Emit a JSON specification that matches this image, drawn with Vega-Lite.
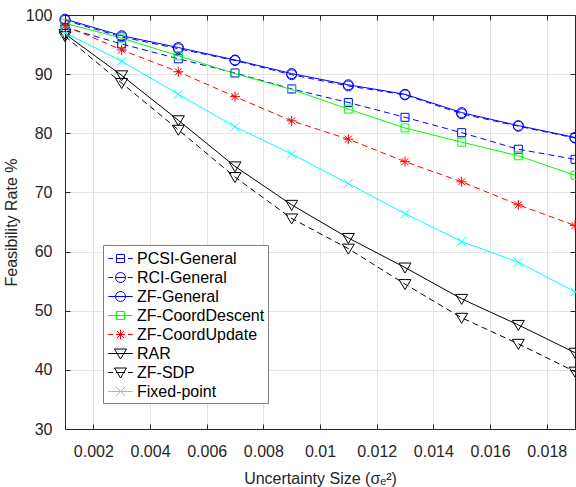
{
  "$schema": "https://vega.github.io/schema/vega-lite/v6.json",
  "width": 510,
  "height": 414,
  "autosize": {"type": "none"},
  "padding": {"left": 65, "top": 15, "right": 1, "bottom": 58},
  "background": "white",
  "config": {
    "font": "Liberation Sans",
    "view": {"stroke": null},
    "axis": {
      "domainColor": "#262626",
      "tickColor": "#262626",
      "labelColor": "#262626",
      "titleColor": "#262626",
      "labelFontSize": 16,
      "titleFontSize": 16,
      "titleFontWeight": "normal",
      "gridColor": "#e3e3e3",
      "tickSize": -5,
      "domainWidth": 1
    },
    "legend": {
      "title": null, "orient": "none", "legendX": 38, "legendY": 230,
      "padding": 3, "symbolSize": 400, "symbolStrokeWidth": 1, "symbolOffset": 4,
      "symbolFillColor": "transparent",
      "labelOffset": 6, "labelFontSize": 16, "labelColor": "#000000", "rowPadding": 0,
      "strokeColor": "#808080", "fillColor": "#ffffff", "labelLimit": 300
    }
  },
  "data": {
    "values": [
      {"method": "PCSI-General", "size": 0.001, "rate": 97.9},
      {"method": "PCSI-General", "size": 0.003, "rate": 95.1},
      {"method": "PCSI-General", "size": 0.005, "rate": 92.6},
      {"method": "PCSI-General", "size": 0.007, "rate": 90.2},
      {"method": "PCSI-General", "size": 0.009, "rate": 87.5},
      {"method": "PCSI-General", "size": 0.011, "rate": 85.2},
      {"method": "PCSI-General", "size": 0.013, "rate": 82.7},
      {"method": "PCSI-General", "size": 0.015, "rate": 80.1},
      {"method": "PCSI-General", "size": 0.017, "rate": 77.3},
      {"method": "PCSI-General", "size": 0.019, "rate": 75.6},
      {"method": "RCI-General", "size": 0.001, "rate": 99.1},
      {"method": "RCI-General", "size": 0.003, "rate": 96.3},
      {"method": "RCI-General", "size": 0.005, "rate": 94.3},
      {"method": "RCI-General", "size": 0.007, "rate": 92.3},
      {"method": "RCI-General", "size": 0.009, "rate": 89.9},
      {"method": "RCI-General", "size": 0.011, "rate": 88.0},
      {"method": "RCI-General", "size": 0.013, "rate": 86.5},
      {"method": "RCI-General", "size": 0.015, "rate": 83.3},
      {"method": "RCI-General", "size": 0.017, "rate": 81.2},
      {"method": "RCI-General", "size": 0.019, "rate": 79.2},
      {"method": "ZF-General", "size": 0.001, "rate": 99.3},
      {"method": "ZF-General", "size": 0.003, "rate": 96.5},
      {"method": "ZF-General", "size": 0.005, "rate": 94.5},
      {"method": "ZF-General", "size": 0.007, "rate": 92.4},
      {"method": "ZF-General", "size": 0.009, "rate": 90.1},
      {"method": "ZF-General", "size": 0.011, "rate": 88.2},
      {"method": "ZF-General", "size": 0.013, "rate": 86.6},
      {"method": "ZF-General", "size": 0.015, "rate": 83.5},
      {"method": "ZF-General", "size": 0.017, "rate": 81.3},
      {"method": "ZF-General", "size": 0.019, "rate": 79.3},
      {"method": "ZF-CoordDescent", "size": 0.001, "rate": 98.6},
      {"method": "ZF-CoordDescent", "size": 0.003, "rate": 96.1},
      {"method": "ZF-CoordDescent", "size": 0.005, "rate": 93.1},
      {"method": "ZF-CoordDescent", "size": 0.007, "rate": 90.1},
      {"method": "ZF-CoordDescent", "size": 0.009, "rate": 87.4},
      {"method": "ZF-CoordDescent", "size": 0.011, "rate": 84.1},
      {"method": "ZF-CoordDescent", "size": 0.013, "rate": 80.9},
      {"method": "ZF-CoordDescent", "size": 0.015, "rate": 78.5},
      {"method": "ZF-CoordDescent", "size": 0.017, "rate": 76.2},
      {"method": "ZF-CoordDescent", "size": 0.019, "rate": 72.9},
      {"method": "ZF-CoordUpdate", "size": 0.001, "rate": 98.2},
      {"method": "ZF-CoordUpdate", "size": 0.003, "rate": 94.1},
      {"method": "ZF-CoordUpdate", "size": 0.005, "rate": 90.4},
      {"method": "ZF-CoordUpdate", "size": 0.007, "rate": 86.2},
      {"method": "ZF-CoordUpdate", "size": 0.009, "rate": 82.1},
      {"method": "ZF-CoordUpdate", "size": 0.011, "rate": 79.0},
      {"method": "ZF-CoordUpdate", "size": 0.013, "rate": 75.2},
      {"method": "ZF-CoordUpdate", "size": 0.015, "rate": 71.8},
      {"method": "ZF-CoordUpdate", "size": 0.017, "rate": 67.9},
      {"method": "ZF-CoordUpdate", "size": 0.019, "rate": 64.4},
      {"method": "RAR", "size": 0.001, "rate": 96.8},
      {"method": "RAR", "size": 0.003, "rate": 89.8},
      {"method": "RAR", "size": 0.005, "rate": 82.2},
      {"method": "RAR", "size": 0.007, "rate": 74.4},
      {"method": "RAR", "size": 0.009, "rate": 67.9},
      {"method": "RAR", "size": 0.011, "rate": 62.3},
      {"method": "RAR", "size": 0.013, "rate": 57.3},
      {"method": "RAR", "size": 0.015, "rate": 52.0},
      {"method": "RAR", "size": 0.017, "rate": 47.6},
      {"method": "RAR", "size": 0.019, "rate": 42.9},
      {"method": "ZF-SDP", "size": 0.001, "rate": 96.4},
      {"method": "ZF-SDP", "size": 0.003, "rate": 88.5},
      {"method": "ZF-SDP", "size": 0.005, "rate": 80.6},
      {"method": "ZF-SDP", "size": 0.007, "rate": 72.6},
      {"method": "ZF-SDP", "size": 0.009, "rate": 65.6},
      {"method": "ZF-SDP", "size": 0.011, "rate": 60.5},
      {"method": "ZF-SDP", "size": 0.013, "rate": 54.5},
      {"method": "ZF-SDP", "size": 0.015, "rate": 48.8},
      {"method": "ZF-SDP", "size": 0.017, "rate": 44.4},
      {"method": "ZF-SDP", "size": 0.019, "rate": 39.7},
      {"method": "Fixed-point", "size": 0.001, "rate": 97.0},
      {"method": "Fixed-point", "size": 0.003, "rate": 92.2},
      {"method": "Fixed-point", "size": 0.005, "rate": 86.6},
      {"method": "Fixed-point", "size": 0.007, "rate": 81.1},
      {"method": "Fixed-point", "size": 0.009, "rate": 76.5},
      {"method": "Fixed-point", "size": 0.011, "rate": 71.5},
      {"method": "Fixed-point", "size": 0.013, "rate": 66.4},
      {"method": "Fixed-point", "size": 0.015, "rate": 61.7},
      {"method": "Fixed-point", "size": 0.017, "rate": 58.2},
      {"method": "Fixed-point", "size": 0.019, "rate": 53.2}
    ]
  },
  "encoding": {
    "x": {"field": "size", "type": "quantitative", "scale": {"domain": [0.001, 0.019], "nice": false, "zero": false}, "axis": null},
    "y": {"field": "rate", "type": "quantitative", "scale": {"domain": [30, 100], "nice": false, "zero": false}, "axis": null}
  },
  "layer": [
    {
      "transform": [{"filter": {"field": "method", "equal": "PCSI-General"}}],
      "mark": {"type": "line", "strokeWidth": 1, "color": "#0000ff", "strokeDash": [6, 4]},
      "encoding": {
        "x": {
          "field": "size", "type": "quantitative",
          "axis": {
            "orient": "bottom",
            "values": [0.002, 0.004, 0.006, 0.008, 0.01, 0.012, 0.014, 0.016, 0.018],
            "format": "~g",
            "grid": true,
            "labelPadding": 19,
            "title": "Uncertainty Size (σₑ²)",
            "titlePadding": 11
          }
        },
        "y": {
          "field": "rate", "type": "quantitative",
          "axis": {
            "orient": "left",
            "values": [30, 40, 50, 60, 70, 80, 90, 100],
            "grid": true,
            "labelPadding": 18,
            "title": "Feasibility Rate %",
            "titlePadding": 6
          }
        },
        "order": {"field": "size", "type": "quantitative"}
      }
    },
    {
      "transform": [{"filter": {"field": "method", "equal": "RCI-General"}}],
      "mark": {"type": "line", "strokeWidth": 1, "color": "#0000ff", "strokeDash": [6, 4]},
      "encoding": {"order": {"field": "size", "type": "quantitative"}}
    },
    {
      "transform": [{"filter": {"field": "method", "equal": "ZF-General"}}],
      "mark": {"type": "line", "strokeWidth": 1, "color": "#0000ff"},
      "encoding": {"order": {"field": "size", "type": "quantitative"}}
    },
    {
      "transform": [{"filter": {"field": "method", "equal": "ZF-CoordDescent"}}],
      "mark": {"type": "line", "strokeWidth": 1, "color": "#00ff00"},
      "encoding": {"order": {"field": "size", "type": "quantitative"}}
    },
    {
      "transform": [{"filter": {"field": "method", "equal": "ZF-CoordUpdate"}}],
      "mark": {"type": "line", "strokeWidth": 1, "color": "#ff0000", "strokeDash": [6, 4]},
      "encoding": {"order": {"field": "size", "type": "quantitative"}}
    },
    {
      "transform": [{"filter": {"field": "method", "equal": "RAR"}}],
      "mark": {"type": "line", "strokeWidth": 1, "color": "#000000"},
      "encoding": {"order": {"field": "size", "type": "quantitative"}}
    },
    {
      "transform": [{"filter": {"field": "method", "equal": "ZF-SDP"}}],
      "mark": {"type": "line", "strokeWidth": 1, "color": "#000000", "strokeDash": [6, 4]},
      "encoding": {"order": {"field": "size", "type": "quantitative"}}
    },
    {
      "transform": [{"filter": {"field": "method", "equal": "Fixed-point"}}],
      "mark": {"type": "line", "strokeWidth": 1, "color": "#00ffff"},
      "encoding": {"order": {"field": "size", "type": "quantitative"}}
    },
    {
      "transform": [{"filter": {"field": "method", "equal": "PCSI-General"}}],
      "mark": {"type": "point", "filled": false, "strokeWidth": 1, "size": 100, "opacity": 1, "color": "#0000ff", "shape": "M-0.8,-0.8L0.8,-0.8L0.8,0.8L-0.8,0.8Z"},
      "encoding": {
        "x": {
          "field": "size", "type": "quantitative",
          "axis": {
            "orient": "top",
            "values": [0.002, 0.004, 0.006, 0.008, 0.01, 0.012, 0.014, 0.016, 0.018],
            "labels": false, "grid": false, "title": null
          }
        },
        "y": {
          "field": "rate", "type": "quantitative",
          "axis": {
            "orient": "right",
            "values": [30, 40, 50, 60, 70, 80, 90, 100],
            "labels": false, "grid": false, "title": null
          }
        }
      }
    },
    {
      "transform": [{"filter": {"field": "method", "equal": "RCI-General"}}],
      "mark": {"type": "point", "filled": false, "strokeWidth": 1, "size": 100, "opacity": 1, "color": "#0000ff", "shape": "M1,0A1,1,0,1,1,-1,0A1,1,0,1,1,1,0Z"},
      "encoding": {}
    },
    {
      "transform": [{"filter": {"field": "method", "equal": "ZF-General"}}],
      "mark": {"type": "point", "filled": false, "strokeWidth": 1, "size": 100, "opacity": 1, "color": "#0000ff", "shape": "M1,0A1,1,0,1,1,-1,0A1,1,0,1,1,1,0Z"},
      "encoding": {}
    },
    {
      "transform": [{"filter": {"field": "method", "equal": "ZF-CoordDescent"}}],
      "mark": {"type": "point", "filled": false, "strokeWidth": 1, "size": 100, "opacity": 1, "color": "#00ff00", "shape": "M-0.8,-0.8L0.8,-0.8L0.8,0.8L-0.8,0.8Z"},
      "encoding": {}
    },
    {
      "transform": [{"filter": {"field": "method", "equal": "ZF-CoordUpdate"}}],
      "mark": {"type": "point", "filled": false, "strokeWidth": 1, "size": 100, "opacity": 1, "color": "#ff0000", "shape": "M0,-1L0,1M-1,0L1,0M-0.7,-0.7L0.7,0.7M-0.7,0.7L0.7,-0.7"},
      "encoding": {}
    },
    {
      "transform": [{"filter": {"field": "method", "equal": "RAR"}}],
      "mark": {"type": "point", "filled": false, "strokeWidth": 1, "size": 100, "opacity": 1, "color": "#000000", "shape": "M-1.2,-0.9L1.2,-0.9L0,1.1Z"},
      "encoding": {}
    },
    {
      "transform": [{"filter": {"field": "method", "equal": "ZF-SDP"}}],
      "mark": {"type": "point", "filled": false, "strokeWidth": 1, "size": 100, "opacity": 1, "color": "#000000", "shape": "M-1.2,-0.9L1.2,-0.9L0,1.1Z"},
      "encoding": {}
    },
    {
      "transform": [{"filter": {"field": "method", "equal": "Fixed-point"}}],
      "mark": {"type": "point", "filled": false, "strokeWidth": 1, "size": 100, "opacity": 1, "color": "#00ffff", "shape": "M-0.9,-0.9L0.9,0.9M-0.9,0.9L0.9,-0.9"},
      "encoding": {}
    },
    {
      "transform": [{"filter": "datum.rate > 1000"}],
      "mark": {"type": "point", "filled": false, "strokeWidth": 1, "opacity": 1},
      "encoding": {
        "color": {
          "field": "method", "type": "nominal",
          "scale": {
            "domain": ["PCSI-General", "RCI-General", "ZF-General", "ZF-CoordDescent", "ZF-CoordUpdate", "RAR", "ZF-SDP", "Fixed-point"],
            "range": ["#0000ff", "#0000ff", "#0000ff", "#00ff00", "#ff0000", "#000000", "#000000", "#00ffff"]
          }
        },
        "shape": {
          "field": "method", "type": "nominal",
          "scale": {
            "domain": ["PCSI-General", "RCI-General", "ZF-General", "ZF-CoordDescent", "ZF-CoordUpdate", "RAR", "ZF-SDP", "Fixed-point"],
            "range": [
              "M-1.22,0L-0.75,0M-0.45,0L0.45,0M0.75,0L1.22,0M-0.4,-0.4L0.4,-0.4L0.4,0.4L-0.4,0.4Z",
              "M-1.22,0L-0.75,0M-0.45,0L0.45,0M0.75,0L1.22,0M0.5,0A0.5,0.5,0,1,1,-0.5,0A0.5,0.5,0,1,1,0.5,0Z",
              "M-1.22,0L1.22,0M0.5,0A0.5,0.5,0,1,1,-0.5,0A0.5,0.5,0,1,1,0.5,0Z",
              "M-1.22,0L1.22,0M-0.4,-0.4L0.4,-0.4L0.4,0.4L-0.4,0.4Z",
              "M-1.22,0L-0.75,0M-0.45,0L0.45,0M0.75,0L1.22,0M0,-0.5L0,0.5M-0.35,-0.35L0.35,0.35M-0.35,0.35L0.35,-0.35",
              "M-1.22,0L1.22,0M-0.6,-0.45L0.6,-0.45L0,0.55Z",
              "M-1.22,0L-0.75,0M-0.45,0L0.45,0M0.75,0L1.22,0M-0.6,-0.45L0.6,-0.45L0,0.55Z",
              "M-1.22,0L1.22,0M-0.45,-0.45L0.45,0.45M-0.45,0.45L0.45,-0.45"
            ]
          }
        }
      }
    }
  ],
  "resolve": {"axis": {"x": "independent", "y": "independent"}}
}
